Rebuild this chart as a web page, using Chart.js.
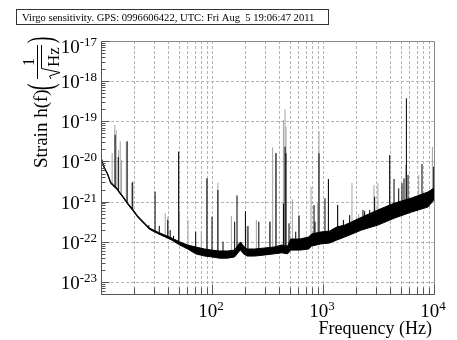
<!DOCTYPE html>
<html>
<head>
<meta charset="utf-8">
<script src="https://cdn.jsdelivr.net/npm/chart.js@4.4.1/dist/chart.umd.min.js"></script>
<style>
  html, body { margin: 0; padding: 0; background: #fff; }
  canvas { display: block; }
</style>
</head>
<body>
<canvas id="asd" width="457" height="340"></canvas>
<script>
// Virgo strain sensitivity, GPS 0996606422

// noise floor: frequency (Hz) and the upper / lower edge of the band
const bandFreq = [10, 10.6, 11.5, 12.2, 12.7, 13.6, 14.1, 14.7, 15.7, 17.4,
  19.3, 21.4, 24.8, 27.3, 32.4, 37.5, 43.4, 51.2, 60.4, 71.3,
  85.9, 99, 117, 138, 160, 174, 181, 192, 208, 242,
  300, 363, 425, 480, 512, 620, 742, 790, 950, 1147,
  1330, 1568, 2230, 3120, 4425, 6280, 8800, 10000];
const bandHigh = [1.29e-20, 7.7e-21, 4.9e-21, 3.1e-21, 2.74e-21, 2.31e-21, 2.06e-21, 1.73e-21, 1.38e-21, 9.2e-22,
  6.5e-22, 4.4e-22, 2.9e-22, 2.2e-22, 1.75e-22, 1.47e-22, 1.24e-22, 9.9e-23, 8.3e-23, 7.4e-23,
  6.6e-23, 6.2e-23, 5.9e-23, 5.9e-23, 6.2e-23, 8.8e-23, 9.9e-23, 7.8e-23, 6.6e-23, 6.6e-23,
  7.0e-23, 7.4e-23, 8.3e-23, 7.8e-23, 1.17e-22, 1.17e-22, 1.31e-22, 1.56e-22, 1.75e-22, 1.85e-22,
  2.33e-22, 2.6e-22, 4.1e-22, 6.2e-22, 9.2e-22, 1.23e-21, 1.73e-21, 2.18e-21];
const bandLow = [1.2e-20, 7.2e-21, 4.6e-21, 2.9e-21, 2.55e-21, 2.15e-21, 1.92e-21, 1.62e-21, 1.29e-21, 8.6e-22,
  6.0e-22, 4.1e-22, 2.7e-22, 2.05e-22, 1.6e-22, 1.33e-22, 1.1e-22, 8.3e-23, 6.6e-23, 5.0e-23,
  4.4e-23, 4.2e-23, 3.9e-23, 3.9e-23, 4.2e-23, 5.6e-23, 6.2e-23, 5.0e-23, 4.4e-23, 4.4e-23,
  4.7e-23, 5.0e-23, 5.3e-23, 5.0e-23, 6.2e-23, 6.2e-23, 6.6e-23, 7.8e-23, 8.8e-23, 9.3e-23,
  1.1e-22, 1.31e-22, 1.96e-22, 2.6e-22, 3.9e-22, 5.5e-22, 7.3e-22, 1.1e-21];

// spectral lines: [frequency, peak, foot]
const greyLines = [
  [12.6, 1.62e-20, 2.6e-21], [13.3, 8.1e-20, 2.3e-21], [13.7, 6.1e-20, 2.2e-21],
  [14.4, 1.93e-20, 1.9e-21], [14.9, 3.2e-20, 1.6e-21], [15.3, 1.1e-20, 1.4e-21],
  [16.9, 3.05e-20, 1.0e-21], [18.8, 2.9e-21, 7e-22], [37.9, 5.2e-22, 1.4e-22],
  [39.9, 4.2e-22, 1.3e-22], [50.1, 1.75e-20, 1.0e-22], [51.0, 5.6e-22, 9.9e-23],
  [60.8, 3.5e-22, 8e-23], [80, 1.78e-22, 6.6e-23], [90.1, 3.8e-21, 6.4e-23],
  [113, 2.96e-21, 6e-23], [149.5, 4.4e-22, 6e-23], [207, 2.4e-22, 6.6e-23],
  [251, 3.5e-22, 6.6e-23], [331, 3.16e-22, 7.2e-23],
  [352, 2.25e-20, 7.3e-23], [377, 1.65e-20, 7.6e-23], [440, 1.08e-19, 8.2e-23],
  [455, 1.99e-19, 8e-23], [464, 7.3e-20, 8e-23], [530, 1.14e-21, 1.1e-22],
  [608, 4.5e-22, 1.1e-22], [780, 2.35e-21, 1.5e-22], [896, 9.1e-22, 1.7e-22],
  [920, 5.7e-20, 1.7e-22], [1119, 3.66e-21, 1.8e-22], [1355, 8.2e-22, 2.3e-22],
  [1824, 2.96e-21, 3.3e-22], [2096, 4.9e-22, 3.7e-22], [2878, 2.59e-21, 5.6e-22],
  [3126, 2.86e-21, 6e-22], [3990, 1.09e-20, 8e-22], [5560, 8.2e-21, 1.1e-21],
  [7278, 4.6e-21, 1.4e-21], [9680, 2.33e-20, 2e-21]
];
const blackLines = [
  [13.4, 4.6e-20, 2.3e-21], [14.3, 1.29e-20, 1.9e-21], [17.2, 3.2e-20, 9.5e-22],
  [19.3, 3.1e-21, 6.5e-22], [27, 2.6e-22, 2.1e-22], [30.7, 1.77e-21, 1.8e-22],
  [33.5, 2.5e-22, 1.7e-22], [40, 3.5e-22, 1.3e-22], [42, 1.96e-22, 1.25e-22],
  [45, 1.4e-22, 1.15e-22], [50.1, 1.75e-20, 1.0e-22], [71.3, 1.78e-22, 7e-23],
  [90.1, 3.8e-21, 6.4e-23], [100, 4.2e-22, 6.2e-23], [113, 1.95e-21, 6e-23],
  [125.6, 1.0e-22, 5.9e-23], [160, 3.16e-22, 6.2e-23], [168, 1.42e-21, 7e-23],
  [200, 5.8e-22, 7.5e-23], [211, 2.47e-22, 6.6e-23], [264, 3.16e-22, 6.8e-23],
  [333, 3.16e-22, 7.2e-23], [377, 1.6e-20, 7.6e-23], [440, 9e-22, 8.2e-23],
  [455, 2.33e-20, 8e-23], [464, 1.6e-20, 8e-23], [494, 2.88e-22, 9e-23],
  [568, 1.78e-22, 1.1e-22], [608, 4.5e-22, 1.1e-22], [830, 8.2e-22, 1.6e-22],
  [847, 3.16e-22, 1.6e-22], [920, 1.6e-20, 1.7e-22], [1042, 1.21e-21, 1.8e-22],
  [1119, 3.66e-21, 1.8e-22], [1355, 8.2e-22, 2.3e-22], [1527, 3.5e-22, 2.5e-22],
  [1738, 4.6e-22, 2.9e-22], [2290, 6.2e-22, 4.2e-22], [2372, 5.8e-22, 4.3e-22],
  [2633, 6.2e-22, 5e-22], [2919, 1.32e-21, 5.6e-22], [3990, 1.45e-20, 8e-22],
  [4363, 3.66e-21, 8.5e-22], [4808, 2.14e-21, 9.5e-22], [5150, 2.86e-21, 1e-21],
  [5368, 3.8e-21, 1e-21], [5640, 3.74e-19, 1.05e-21], [5835, 4.6e-21, 1.1e-21],
  [7795, 8.6e-21, 1.5e-21], [9940, 7.4e-21, 2e-21]
];

// axis ranges and labelled decades
const xRange = [10, 1e4];
const yRange = [5e-24, 1e-17];
const xLabelExp = [2, 3, 4];
const yLabelExp = [-17, -18, -19, -20, -21, -22, -23];

const title = 'Virgo sensitivity. GPS: 0996606422, UTC: Fri Aug  5 19:06:47 2011';
const serif = '"Liberation Serif", "Times New Roman", serif';

// each line is drawn foot -> peak, then a gap
function linePoints(list) {
  const pts = [];
  list.forEach(([f, peak, foot]) => {
    pts.push({ x: f, y: foot }, { x: f, y: peak }, { x: f, y: null });
  });
  return pts;
}

const rootFrame = {
  id: 'rootFrame',
  beforeDraw(chart) {
    const ctx = chart.ctx;
    ctx.save();
    ctx.fillStyle = '#fff';
    ctx.fillRect(0, 0, chart.width, chart.height);
    // title box
    ctx.strokeStyle = '#333';
    ctx.lineWidth = 1;
    ctx.strokeRect(16.5, 9.5, 312, 15);
    ctx.fillStyle = '#000';
    ctx.font = '10.6px ' + serif;
    ctx.textBaseline = 'alphabetic';
    ctx.fillText(title, 22, 20.5);
    ctx.restore();
  },
  beforeDatasetsDraw(chart) {
    const ctx = chart.ctx;
    const { left, right, top, bottom } = chart.chartArea;
    const xs = chart.scales.x, ys = chart.scales.y;
    ctx.save();
    ctx.strokeStyle = '#b4b4b4';
    ctx.lineWidth = 1;
    ctx.setLineDash([3, 2]);
    ctx.beginPath();
    for (let e = 1; e <= 3; e++) {
      for (let k = 1; k <= 9; k++) {
        const v = k * Math.pow(10, e);
        if (v <= xRange[0] || v >= xRange[1]) continue;
        const x = Math.round(xs.getPixelForValue(v)) + 0.5;
        ctx.moveTo(x, top);
        ctx.lineTo(x, bottom);
      }
    }
    for (let e = -23; e <= -18; e++) {
      const y = Math.round(ys.getPixelForValue(Math.pow(10, e))) + 0.5;
      ctx.moveTo(left, y);
      ctx.lineTo(right, y);
    }
    ctx.stroke();
    ctx.restore();
  },
  afterDatasetsDraw(chart) {
    const ctx = chart.ctx;
    const { left, right, top, bottom } = chart.chartArea;
    const xs = chart.scales.x, ys = chart.scales.y;
    ctx.save();
    ctx.lineWidth = 1;

    // frame
    const L = Math.round(left) + 0.5, R = Math.round(right) + 0.5;
    const T = Math.round(top) + 0.5, B = Math.round(bottom) + 0.5;
    ctx.strokeStyle = '#8a8a8a';
    ctx.beginPath();
    ctx.moveTo(L, T); ctx.lineTo(R, T); ctx.lineTo(R, B);
    ctx.stroke();
    ctx.strokeStyle = '#555';
    ctx.beginPath();
    ctx.moveTo(L, T); ctx.lineTo(L, B); ctx.lineTo(R, B);
    ctx.stroke();

    // tick marks
    ctx.beginPath();
    for (let e = -24; e <= -17; e++) {
      for (let k = 1; k <= 9; k++) {
        const v = k * Math.pow(10, e);
        if (v < yRange[0] || v > yRange[1]) continue;
        const y = Math.round(ys.getPixelForValue(v)) + 0.5;
        ctx.moveTo(L, y);
        ctx.lineTo(L + (k === 1 ? 8 : 4), y);
      }
    }
    for (let e = 1; e <= 4; e++) {
      for (let k = 1; k <= 9; k++) {
        const v = k * Math.pow(10, e);
        if (v < xRange[0] || v > xRange[1]) continue;
        const x = Math.round(xs.getPixelForValue(v)) + 0.5;
        ctx.moveTo(x, B);
        ctx.lineTo(x, B - (k === 1 ? 10 : 7));
      }
    }
    ctx.stroke();

    // tick labels
    ctx.fillStyle = '#000';
    ctx.textBaseline = 'alphabetic';
    const big = '19px ' + serif, small = '13px ' + serif;
    yLabelExp.forEach(e => {
      let y = ys.getPixelForValue(Math.pow(10, e)) + 7;
      if (e === -17) y += 5;
      ctx.font = big; const w1 = ctx.measureText('10').width;
      ctx.font = small; const w2 = ctx.measureText(String(e)).width;
      const x0 = 97 - w1 - w2;
      ctx.font = big; ctx.fillText('10', x0, y);
      ctx.font = small; ctx.fillText(String(e), x0 + w1, y - 7);
    });
    xLabelExp.forEach(e => {
      const x = xs.getPixelForValue(Math.pow(10, e));
      ctx.font = big; const w1 = ctx.measureText('10').width;
      ctx.font = small; const w2 = ctx.measureText(String(e)).width;
      const x0 = x - (w1 + w2) / 2 - 1;
      ctx.font = big; ctx.fillText('10', x0, 317);
      ctx.font = small; ctx.fillText(String(e), x0 + w1, 310);
    });

    // x title
    ctx.font = '18px ' + serif;
    ctx.textAlign = 'right';
    ctx.fillText('Frequency (Hz)', 432, 334);
    ctx.textAlign = 'left';

    // y title, rotated: Strain h(f) (1 / sqrt(Hz))
    ctx.translate(47, 168);
    ctx.rotate(-Math.PI / 2);
    ctx.font = '19px ' + serif;
    ctx.fillText('Strain h(f)', 0, 0);
    ctx.save();
    ctx.translate(78, 5);
    ctx.scale(1, 1.9);
    ctx.fillText('(', 0, 0);
    ctx.restore();
    ctx.save();
    ctx.translate(125, 5);
    ctx.scale(1, 1.9);
    ctx.fillText(')', 0, 0);
    ctx.restore();
    // fraction bar and numerator
    ctx.strokeStyle = '#000';
    ctx.beginPath();
    ctx.moveTo(89, -9.5); ctx.lineTo(123, -9.5);
    ctx.stroke();
    ctx.font = '16px ' + serif;
    ctx.textAlign = 'center';
    ctx.fillText('1', 106, -13);
    ctx.textAlign = 'left';
    // square root of Hz
    ctx.beginPath();
    ctx.moveTo(89, 4); ctx.lineTo(92, 2.5); ctx.lineTo(95.5, 13);
    ctx.lineTo(99.5, -5.5); ctx.lineTo(123, -5.5);
    ctx.stroke();
    ctx.font = '17px ' + serif;
    ctx.fillText('Hz', 101, 12);
    ctx.restore();
  }
};

new Chart(document.getElementById('asd'), {
  type: 'line',
  data: {
    datasets: [
      { label: 'lines', data: linePoints(blackLines), borderColor: '#000', borderWidth: 1,
        pointRadius: 0, spanGaps: false, fill: false, order: 0 },
      { label: 'band high', data: bandFreq.map((f, i) => ({ x: f, y: bandHigh[i] })),
        borderColor: '#000', backgroundColor: '#000', borderWidth: 1, pointRadius: 0,
        fill: '+1', order: 1 },
      { label: 'band low', data: bandFreq.map((f, i) => ({ x: f, y: bandLow[i] })),
        borderColor: '#000', borderWidth: 1, pointRadius: 0, fill: false, order: 2 },
      { label: 'grey lines', data: linePoints(greyLines), borderColor: '#a4a4a4', borderWidth: 1,
        pointRadius: 0, spanGaps: false, fill: false, order: 3 }
    ]
  },
  options: {
    responsive: false,
    animation: false,
    devicePixelRatio: 1,
    layout: { padding: { left: 101, right: 23, top: 41, bottom: 46 } },
    elements: { line: { tension: 0 } },
    scales: {
      x: { type: 'logarithmic', min: xRange[0], max: xRange[1], display: false },
      y: { type: 'logarithmic', min: yRange[0], max: yRange[1], display: false }
    },
    plugins: { legend: { display: false }, tooltip: { enabled: false } }
  },
  plugins: [rootFrame]
});
</script>
</body>
</html>
